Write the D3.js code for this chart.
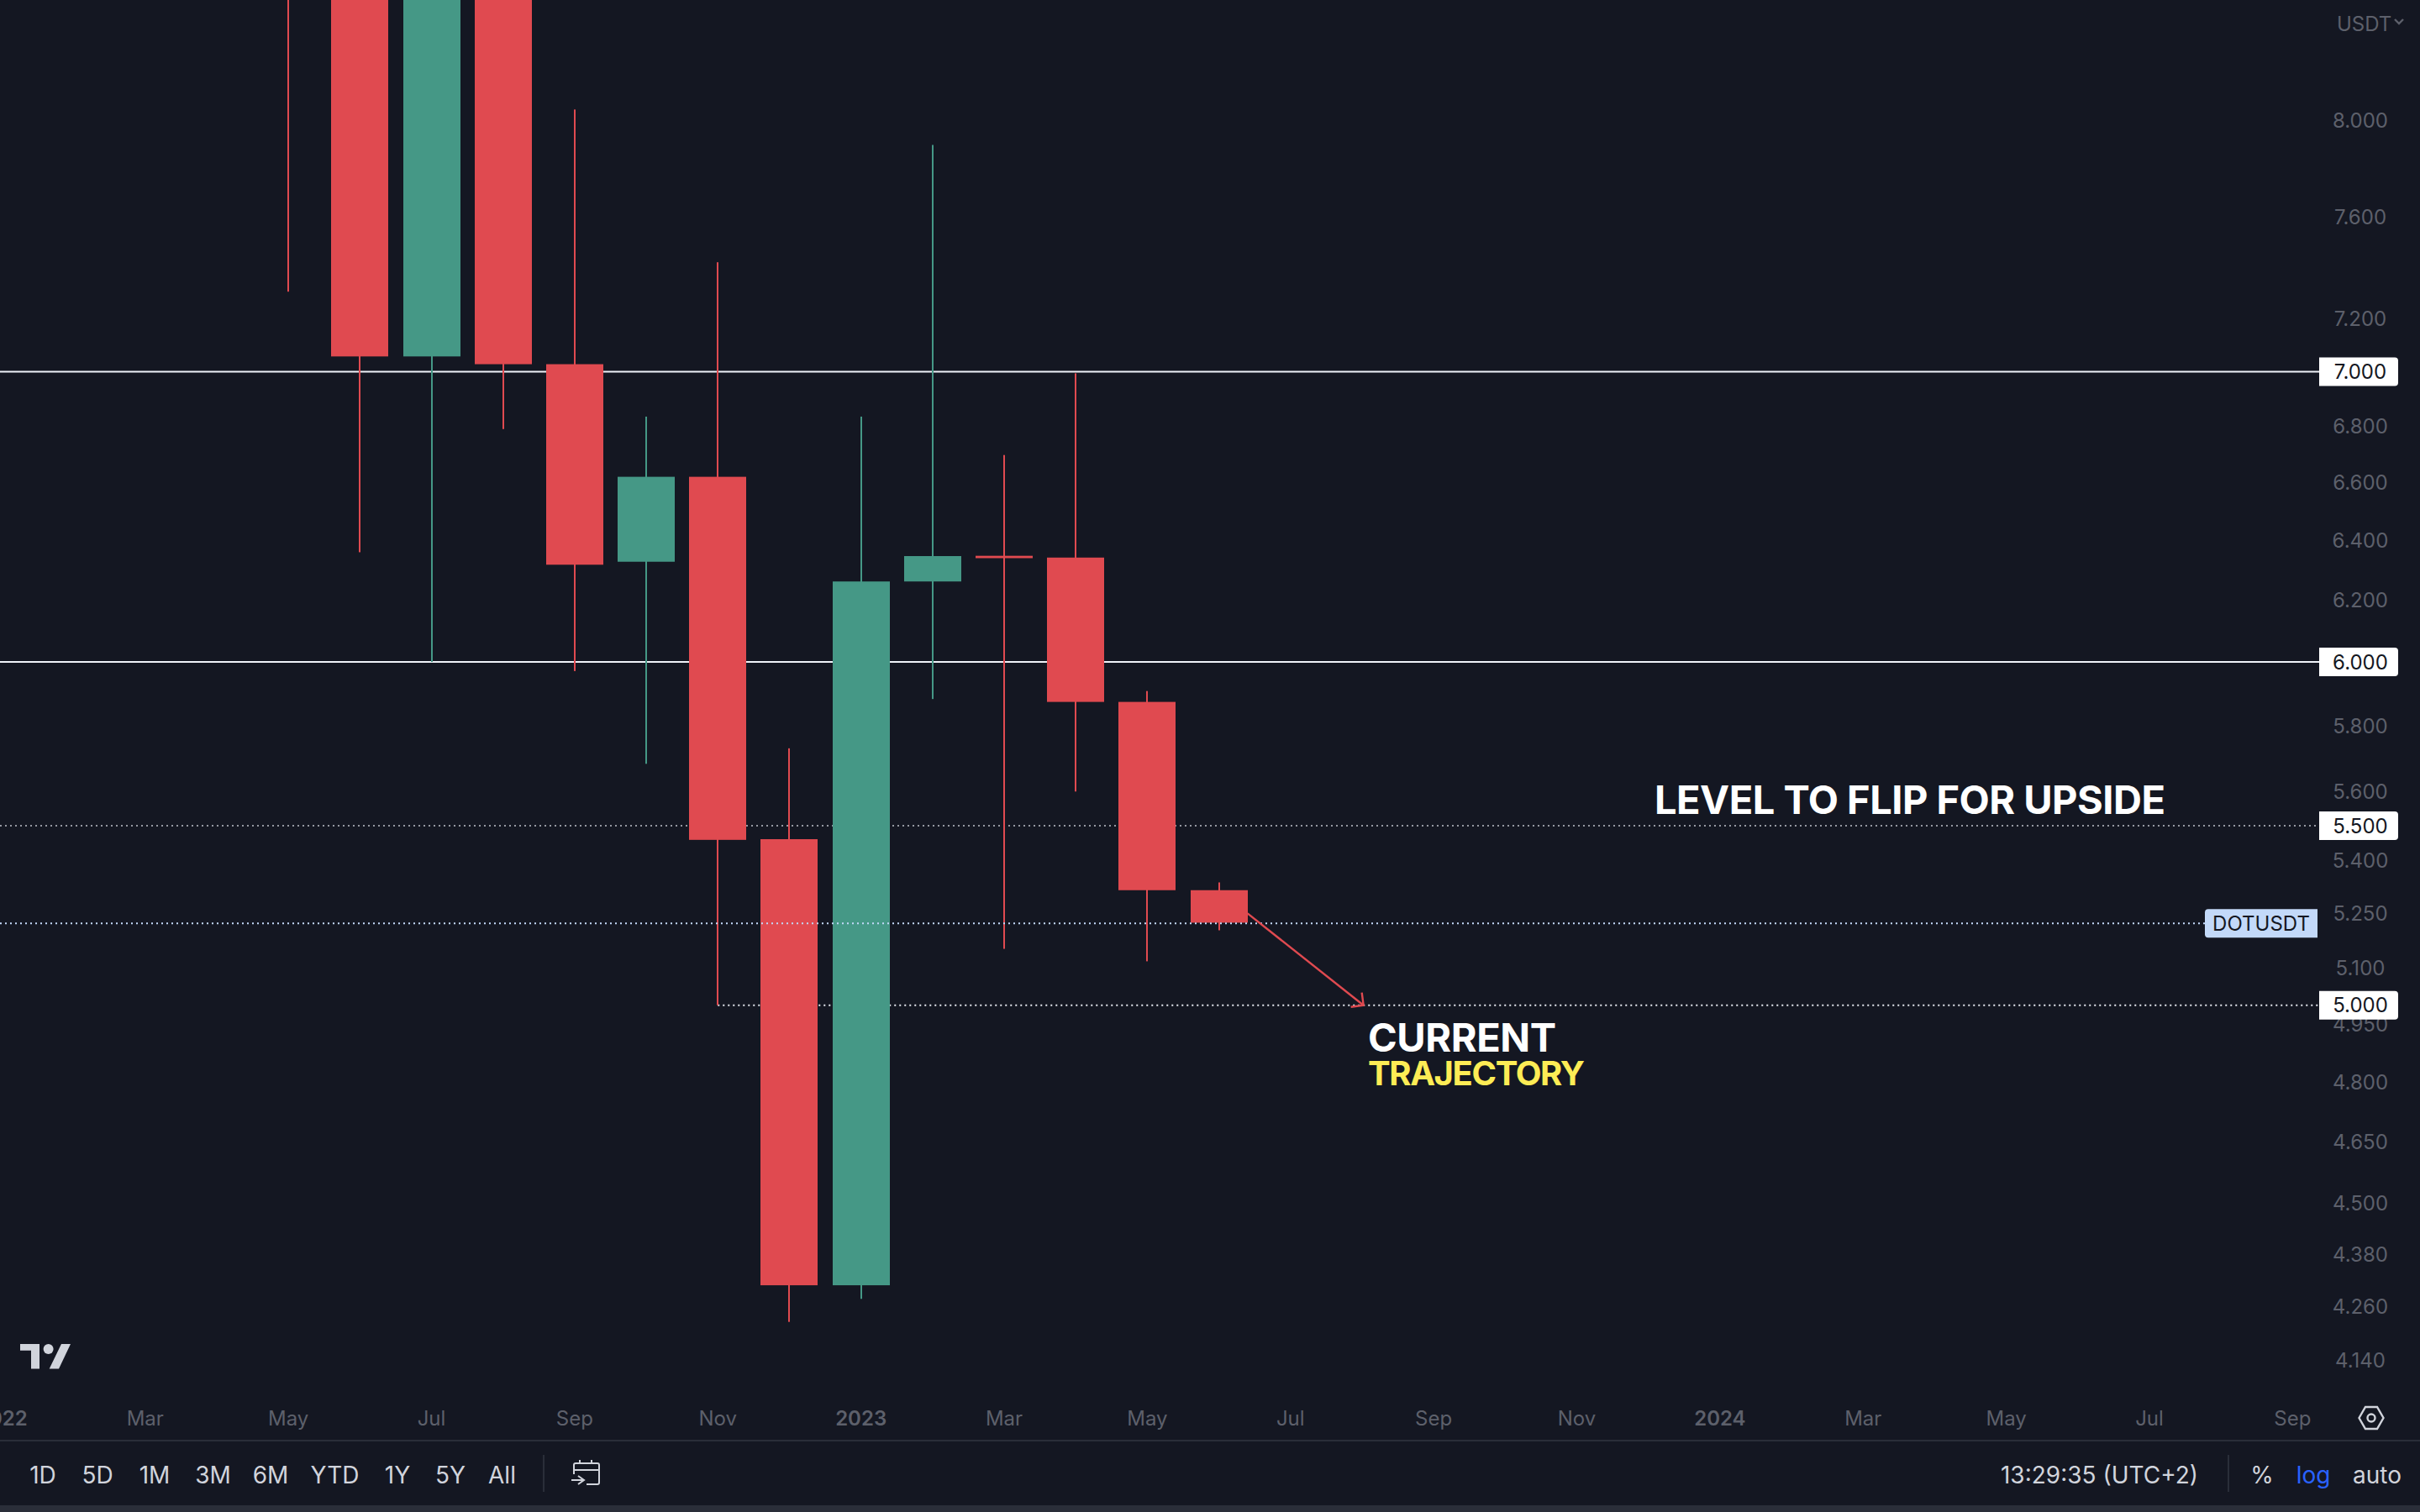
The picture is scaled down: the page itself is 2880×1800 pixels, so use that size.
<!DOCTYPE html>
<html>
<head>
<meta charset="utf-8">
<style>
  html, body { margin: 0; background: #141722; }
  svg { display: block; }
  text { font-family: Inter, "Noto Sans", sans-serif; }
</style>
<script src="https://cdn.jsdelivr.net/npm/d3@7"></script>
</head>
<body>
<svg id="chart" width="2880" height="1800"></svg>
<script>
// monthly candles, May 2022 to Jun 2023 (index counts months from Jan 2022)
const candleIdx = [4, 5, 6, 7, 8, 9, 10, 11, 12, 13, 14, 15, 16, 17];
const opens  = [10.8, 9.6, 7.057, 8.9, 7.028, 6.328, 6.620, 5.461, 4.309, 6.262, 6.348, 6.342, 5.874, 5.315];
const highs  = [11.5, 9.9, 9.3, 9.6, 8.046, 6.835, 7.419, 5.731, 6.835, 7.896, 6.697, 6.994, 5.908, 5.337];
const lows   = [7.304, 6.360, 6.0, 6.790, 5.971, 5.684, 5.0, 4.226, 4.278, 5.883, 5.152, 5.601, 5.118, 5.203];
const closes = [9.6, 7.057, 8.9, 7.028, 6.318, 6.620, 5.459, 4.309, 6.262, 6.347, 6.340, 5.874, 5.315, 5.224];

// axes
const priceTicks = [8.0, 7.6, 7.2, 6.8, 6.6, 6.4, 6.2, 5.8, 5.6, 5.4, 5.25, 5.1, 4.95, 4.8, 4.65, 4.5, 4.38, 4.26, 4.14];
const timeIdx = [0, 2, 4, 6, 8, 10, 12, 14, 16, 18, 20, 22, 24, 26, 28, 30, 32];
const timeLabels = ["2022", "Mar", "May", "Jul", "Sep", "Nov", "2023", "Mar", "May", "Jul", "Sep", "Nov", "2024", "Mar", "May", "Jul", "Sep"];
const boldLabels = ["2022", "2023", "2024"];

// horizontal levels
const solidLevels = [7, 6];
const dottedLevels = [5.5];
const labelLevels = [7, 6, 5.5, 5];
const targetLevel = 5;
const targetStartIdx = 10;
const lastPrice = 5.222;

// arrow from the last candle to the 5.000 level
const arrowFrom = [17.4, 5.25];
const arrowTo = [19.02, 5.0];

// bottom toolbar
const rangeLabels = ["1D", "5D", "1M", "3M", "6M", "YTD", "1Y", "5Y", "All"];
const rangeCenters = [51, 116, 184, 253.5, 322, 398.5, 473, 536, 597.5];

const bg = "#141722", red = "#e04a50", green = "#459886", grey = "#5d606b", light = "#d1d4dc", sep = "#2a2e39";
const plotRight = 2760, barWidth = 68, wickWidth = 2;

const x = d3.scaleLinear().domain([0, 32]).range([2.4, 2728.4]);
const y = d3.scaleLog().domain([5, 8]).range([1196.7, 143.2]);

const svg = d3.select("#chart");
svg.append("rect").attr("width", 2880).attr("height", 1800).attr("fill", bg);

// levels sit behind the candles
svg.selectAll("line.solid").data(solidLevels).enter().append("line")
  .attr("class", "solid")
  .attr("x1", 0).attr("x2", plotRight)
  .attr("y1", d => y(d)).attr("y2", d => y(d))
  .attr("stroke", "#f0f3fa").attr("stroke-width", 2);

svg.selectAll("line.dotted").data(dottedLevels).enter().append("line")
  .attr("class", "dotted")
  .attr("x1", 0).attr("x2", plotRight - 2)
  .attr("y1", d => y(d)).attr("y2", d => y(d))
  .attr("stroke", "#9598a1").attr("stroke-width", 2).attr("stroke-dasharray", "2 4");

svg.append("line")
  .attr("x1", x(targetStartIdx)).attr("x2", plotRight)
  .attr("y1", y(targetLevel)).attr("y2", y(targetLevel))
  .attr("stroke", "#e6e9f0").attr("stroke-width", 2).attr("stroke-dasharray", "2 4");

// wicks then bodies
const candleColor = i => closes[i] >= opens[i] ? green : red;

svg.selectAll("rect.wick").data(candleIdx).enter().append("rect")
  .attr("class", "wick")
  .attr("x", d => Math.round(x(d)) - wickWidth / 2)
  .attr("width", wickWidth)
  .attr("y", (d, i) => y(highs[i]))
  .attr("height", (d, i) => y(lows[i]) - y(highs[i]))
  .attr("fill", (d, i) => candleColor(i));

svg.selectAll("rect.body").data(candleIdx).enter().append("rect")
  .attr("class", "body")
  .attr("x", d => Math.round(x(d)) - barWidth / 2)
  .attr("width", barWidth)
  .attr("y", (d, i) => y(Math.max(opens[i], closes[i])))
  .attr("height", (d, i) => Math.abs(y(opens[i]) - y(closes[i])))
  .attr("fill", (d, i) => candleColor(i));

// symbol line goes over the candles
svg.append("line")
  .attr("x1", 0).attr("x2", 2626)
  .attr("y1", y(lastPrice)).attr("y2", y(lastPrice))
  .attr("stroke", "#c3d9f9").attr("stroke-width", 2).attr("stroke-dasharray", "2 4");

// arrow
const ax = x(arrowTo[0]), ay = y(arrowTo[1]);
svg.append("line")
  .attr("x1", x(arrowFrom[0])).attr("y1", y(arrowFrom[1]))
  .attr("x2", ax).attr("y2", ay)
  .attr("stroke", red).attr("stroke-width", 2.4);
svg.append("polyline")
  .attr("points", [[ax - 2, ay - 15], [ax, ay], [ax - 15, ay + 2]].join(" "))
  .attr("fill", "none").attr("stroke", red).attr("stroke-width", 2.4);

// annotations, squeezed to the widths measured on the picture
const note = (label, left, base, size, len, color) => svg.append("text")
  .attr("x", left).attr("y", base)
  .attr("textLength", len).attr("lengthAdjust", "spacing")
  .style("font-weight", 700).style("font-size", size + "px")
  .attr("fill", color).text(label);

note("LEVEL TO FLIP FOR UPSIDE", 1969, 969, 47, 608, "#ffffff");
note("CURRENT", 1628, 1252.3, 47, 224, "#ffffff");
note("TRAJECTORY", 1628, 1291.7, 40, 258, "#fdec55");

// price axis
svg.selectAll("text.price").data(priceTicks).enter().append("text")
  .attr("class", "price")
  .attr("x", 2809).attr("y", d => y(d))
  .attr("text-anchor", "middle").attr("dominant-baseline", "central")
  .attr("fill", grey).style("font-size", "24px")
  .text(d => d.toFixed(3));

svg.append("text").attr("x", 2781).attr("y", 28)
  .attr("dominant-baseline", "central").attr("fill", grey).style("font-size", "24px").text("USDT");
svg.append("path").attr("d", "M2850,23 L2855,28 L2860,23")
  .attr("fill", "none").attr("stroke", grey).attr("stroke-width", 2.4);

// white level tags, flat on the left and rounded on the right
const tags = svg.selectAll("g.tag").data(labelLevels).enter().append("g").attr("class", "tag");
tags.append("path")
  .attr("d", d => {
    const t = y(d) - 17, b = y(d) + 17;
    return `M2760,${t} H2850 Q2854,${t} 2854,${t + 4} V${b - 4} Q2854,${b} 2850,${b} H2760 Z`;
  })
  .attr("fill", "#ffffff");
tags.append("text")
  .attr("x", 2809).attr("y", d => y(d))
  .attr("text-anchor", "middle").attr("dominant-baseline", "central")
  .attr("fill", bg).style("font-size", "24px")
  .text(d => d.toFixed(3));

// symbol tag
const st = y(lastPrice) - 17, sb = y(lastPrice) + 17;
svg.append("path")
  .attr("d", `M2758,${st} H2628 Q2624,${st} 2624,${st + 4} V${sb - 4} Q2624,${sb} 2628,${sb} H2758 Z`)
  .attr("fill", "#c3d9f9");
svg.append("text").attr("x", 2691).attr("y", y(lastPrice))
  .attr("text-anchor", "middle").attr("dominant-baseline", "central")
  .attr("fill", bg).style("font-size", "24px").text("DOTUSDT");

// TradingView mark
const logo = svg.append("g").attr("fill", light);
logo.append("polygon").attr("points", "24,1600 47,1600 47,1629.5 37,1629.5 37,1607.7 24,1607.7");
logo.append("ellipse").attr("cx", 57.6).attr("cy", 1606).attr("rx", 6).attr("ry", 6);
logo.append("polygon").attr("points", "73,1600 84,1600 70,1629.5 58.7,1629.5");

// time axis
svg.selectAll("text.time").data(timeIdx).enter().append("text")
  .attr("class", "time")
  .attr("x", d => x(d)).attr("y", 1688)
  .attr("text-anchor", "middle").attr("dominant-baseline", "central")
  .attr("fill", grey).style("font-size", "24px")
  .style("font-weight", (d, i) => boldLabels.includes(timeLabels[i]) ? 600 : 400)
  .text((d, i) => timeLabels[i]);

// settings icon
svg.append("path").attr("d", "M2807.5,1688 L2815,1675 H2829 L2836.5,1688 L2829,1701 H2815 Z")
  .attr("fill", "none").attr("stroke", light).attr("stroke-width", 2.4);
svg.append("circle").attr("cx", 2822).attr("cy", 1688).attr("r", 4.5)
  .attr("fill", "none").attr("stroke", light).attr("stroke-width", 2.4);

// toolbar
svg.append("rect").attr("x", 0).attr("y", 1714).attr("width", 2880).attr("height", 2).attr("fill", sep);
svg.append("rect").attr("x", 0).attr("y", 1792).attr("width", 2880).attr("height", 8).attr("fill", sep);

svg.selectAll("text.range").data(rangeLabels).enter().append("text")
  .attr("class", "range")
  .attr("x", (d, i) => rangeCenters[i]).attr("y", 1756)
  .attr("text-anchor", "middle").attr("dominant-baseline", "central")
  .attr("fill", light).style("font-size", "28px")
  .text(d => d);

svg.append("rect").attr("x", 646).attr("y", 1732).attr("width", 2).attr("height", 44).attr("fill", sep);
svg.append("rect").attr("x", 2651).attr("y", 1732).attr("width", 2).attr("height", 44).attr("fill", sep);

// calendar icon
svg.append("path")
  .attr("d", "M683,1755 V1744 Q683,1742 685,1742 H711 Q713,1742 713,1744 V1765 Q713,1767 711,1767 H698 M683,1750 H713 M690,1738 V1742 M704,1738 V1742 M680,1762 H695 M688,1757 L695,1762 L688,1767")
  .attr("fill", "none").attr("stroke", light).attr("stroke-width", 2);

const bottomText = (label, cx, color) => svg.append("text")
  .attr("x", cx).attr("y", 1756)
  .attr("text-anchor", "middle").attr("dominant-baseline", "central")
  .attr("fill", color).style("font-size", "28px").text(label);

bottomText("13:29:35 (UTC+2)", 2498.5, light);
bottomText("%", 2692, light);
bottomText("log", 2753, "#2962ff");
bottomText("auto", 2829, light);
</script>
</body>
</html>
